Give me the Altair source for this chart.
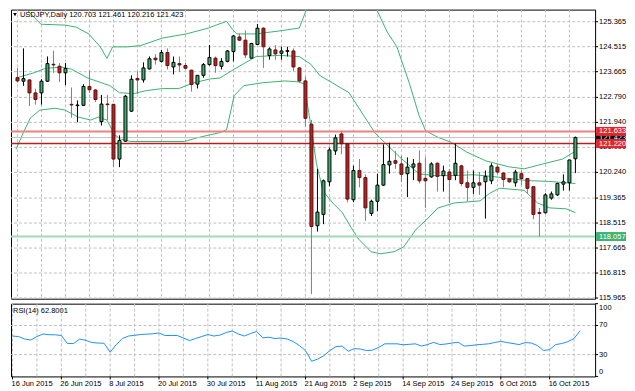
import altair as alt
import pandas as pd

# ---------------- data ----------------
symbol = "USDJPY"
timeframe = "Daily"

opens = [123.461, 123.341, 123.385, 122.943, 122.943, 123.341, 123.916, 123.850, 123.627, 122.554,
         122.511, 122.521, 123.162, 123.042, 121.966, 122.564, 122.554, 120.693, 121.301, 122.321,
         123.434, 123.385, 123.760, 124.125, 124.016, 124.315, 123.826, 123.939, 123.873, 123.717,
         123.242, 123.541, 123.906, 124.125, 123.850, 124.016, 124.348, 124.846, 124.737, 124.125,
         124.590, 125.145, 124.215, 124.405, 124.291, 124.358, 124.371, 123.793, 123.351, 121.880,
         118.424, 118.810, 119.919, 120.969, 121.547, 121.215, 119.308, 120.305, 120.062, 118.843,
         119.255, 119.806, 120.494, 120.637, 120.527, 120.195, 120.418, 120.550, 120.036, 120.085,
         120.550, 120.129, 120.252, 120.139, 120.461, 119.886, 119.730, 119.886, 119.919, 119.953,
         120.418, 120.218, 120.019, 119.886, 120.195, 120.029, 119.753, 118.873, 118.866, 119.365,
         119.474, 119.840, 119.886, 120.703]
highs = [123.793, 124.458, 123.400, 123.085, 123.408, 124.182, 124.381, 123.959, 123.959, 123.129,
         122.687, 123.242, 123.707, 123.075, 122.876, 122.876, 122.570, 121.501, 122.876, 123.541,
         123.674, 123.983, 124.182, 124.258, 124.404, 124.458, 124.182, 124.182, 123.959, 123.730,
         123.550, 123.959, 124.571, 124.182, 124.125, 124.404, 124.903, 124.956, 125.069, 124.647,
         125.288, 125.179, 124.491, 124.571, 124.514, 124.514, 124.458, 123.826, 123.494, 122.022,
         120.361, 119.996, 121.082, 121.524, 121.634, 121.230, 120.471, 120.694, 120.172, 119.308,
         120.195, 121.192, 121.248, 120.969, 120.803, 120.750, 120.694, 120.992, 120.750, 120.584,
         120.584, 120.471, 120.361, 121.215, 120.504, 120.305, 120.305, 120.252, 120.305, 120.550,
         120.527, 120.252, 120.029, 120.328, 120.305, 120.040, 119.760, 119.032, 119.531, 119.587,
         119.886, 120.172, 120.670, 121.461]
lows = [123.295, 123.185, 122.497, 122.544, 122.544, 123.318, 123.627, 123.318, 123.208, 122.099,
        121.946, 122.497, 122.943, 122.630, 121.833, 122.022, 120.418, 120.418, 121.282, 122.300,
        122.909, 123.295, 123.740, 123.906, 123.983, 123.740, 123.574, 123.650, 123.740, 122.986,
        123.095, 123.461, 123.873, 123.627, 123.740, 123.983, 124.016, 124.703, 124.125, 124.115,
        124.571, 123.793, 124.072, 124.072, 124.072, 124.182, 123.684, 123.295, 121.800, 116.099,
        118.225, 118.477, 119.773, 120.836, 120.860, 119.222, 119.222, 119.730, 118.590, 118.756,
        118.923, 119.773, 120.195, 120.361, 119.919, 119.398, 119.973, 119.863, 119.032, 120.062,
        119.587, 119.587, 119.199, 119.973, 119.773, 119.255, 119.507, 119.474, 118.667, 119.840,
        120.172, 119.730, 119.886, 119.753, 119.806, 119.531, 118.644, 118.057, 118.843, 119.308,
        119.441, 119.620, 119.620, 120.216]
closes = [123.351, 123.428, 122.943, 122.720, 123.341, 123.939, 123.896, 123.627, 123.773, 122.534,
          122.531, 123.162, 123.052, 122.720, 122.564, 122.544, 120.693, 121.325, 122.830, 123.408,
          123.385, 123.793, 124.105, 124.072, 124.315, 123.873, 123.983, 123.893, 123.783, 123.228,
          123.541, 123.906, 124.149, 123.873, 124.016, 124.371, 124.880, 124.737, 124.238, 124.624,
          125.145, 124.514, 124.438, 124.272, 124.371, 124.381, 123.826, 123.351, 122.079, 118.401,
          118.889, 119.953, 121.002, 121.414, 121.215, 119.331, 120.305, 120.062, 119.032, 119.255,
          119.806, 120.504, 120.617, 120.550, 120.172, 120.418, 120.527, 119.953, 119.953, 120.527,
          120.105, 120.285, 119.996, 120.550, 119.863, 119.730, 119.886, 119.806, 120.105, 120.461,
          120.252, 119.996, 119.919, 120.252, 120.029, 119.697, 118.810, 118.840, 119.474, 119.507,
          119.863, 119.919, 120.661, 121.423]

rsi_values = [55.5, 54.8, 51.4, 50.0, 54.8, 58.3, 57.3, 57.2, 56.2, 45.2,
              45.2, 51.4, 49.6, 46.6, 45.9, 45.6, 33.2, 43.8, 52.1, 55.5,
              56.5, 57.6, 58.1, 58.6, 59.7, 56.2, 56.2, 56.2, 52.8, 49.3,
              52.1, 54.8, 57.6, 55.5, 56.9, 60.3, 62.4, 58.3, 55.5, 59.0,
              61.7, 53.0, 53.9, 52.1, 52.8, 51.4, 47.9, 42.4, 35.5, 20.8,
              23.8, 28.6, 35.5, 41.0, 41.7, 34.6, 38.3, 37.6, 35.5, 36.2,
              39.9, 44.8, 44.8, 44.8, 43.5, 44.1, 44.8, 41.7, 43.8, 46.8,
              43.8, 44.5, 45.9, 47.0, 41.7, 42.4, 43.4, 44.1, 44.8, 46.6,
              48.2, 46.6, 45.2, 43.8, 46.6, 45.9, 42.4, 35.5, 36.9, 43.8,
              45.2, 47.9, 52.1, 62.8001]

date_labels = ["16 Jun 2015", "26 Jun 2015", "8 Jul 2015", "20 Jul 2015", "30 Jul 2015",
               "11 Aug 2015", "21 Aug 2015", "2 Sep 2015", "14 Sep 2015", "24 Sep 2015",
               "6 Oct 2015", "16 Oct 2015"]
date_label_bars = [0, 8, 16, 24, 32, 40, 48, 56, 64, 72, 80, 88]
grid_bars = [0, 4, 8, 12, 16, 20, 24, 28, 32, 36, 40, 44, 48, 52, 56, 60, 64, 68, 72, 76, 80, 84, 88, 92]

price_ticks = [115.965, 116.815, 117.665, 118.515, 119.365, 120.240, 121.090,
               121.940, 122.790, 123.665, 124.515, 125.365]
rsi_mid_ticks = [30, 70]
rsi_top_tick = [100]
rsi_bottom_tick = [0]

# Bollinger bands (20, 2): bar position -> price
bb_upper_pos = [-0.24, 1.52, 3.91, 7.89, 9.81, 11.88, 13.80, 14.91, 15.87, 18.26, 20.49, 24.16,
                28.15, 31.82, 34.85, 35.81, 36.60, 39.79, 43.62, 46.97, 48.09, 48.88, 53.67,
                58.77, 59.73, 61.64, 63.24, 65.31, 66.91, 68.02, 70.10, 72.33, 74.88, 78.07,
                81.90, 84.45, 87.64, 90.83, 93.0]
bb_upper = [126.01, 125.78, 125.28, 125.25, 125.18, 124.95, 124.51, 124.12, 124.51, 124.51, 124.55,
            124.81, 124.95, 125.15, 125.38, 125.11, 124.95, 124.95, 125.05, 125.15, 125.74, 126.51,
            127.84, 126.34, 125.84, 125.01, 124.51, 123.28, 122.19, 121.66, 121.43, 121.26, 120.93,
            120.63, 120.43, 120.36, 120.53, 120.69, 120.96]
bb_mid_pos = [-0.24, 2.63, 4.70, 7.42, 9.01, 11.72, 15.39, 16.99, 19.38, 21.45, 24.16, 26.87,
              29.43, 32.14, 33.73, 36.12, 39.79, 43.62, 46.97, 48.88, 50.48, 52.55, 55.26,
              57.66, 59.57, 61.17, 63.72, 65.95, 66.91, 69.62, 72.81, 76.00, 79.19, 81.90,
              85.09, 88.76, 93.0]
bb_mid = [123.45, 123.62, 123.78, 123.82, 123.75, 123.45, 123.19, 122.95, 122.92, 123.02, 123.09,
          123.09, 123.29, 123.42, 123.45, 123.75, 124.18, 124.22, 124.18, 123.92, 123.52, 123.28,
          122.95, 122.19, 121.59, 121.26, 120.76, 120.36, 120.19, 120.13, 120.13, 120.16, 120.10,
          120.03, 119.96, 119.93, 119.86]
bb_low_pos = [-0.24, 1.04, 2.15, 3.75, 6.30, 7.89, 10.13, 12.20, 13.48, 14.91, 16.19, 17.30,
              18.90, 24.16, 27.83, 30.06, 32.14, 33.73, 34.85, 36.12, 37.72, 40.91, 44.58,
              46.81, 47.77, 48.88, 49.84, 50.96, 52.55, 54.15, 55.58, 56.86, 58.93, 60.53,
              62.76, 64.35, 66.43, 68.02, 70.10, 72.81, 77.11, 78.71, 80.35, 84.45, 86.68,
              88.76, 91.47, 93.0]
bb_low = [121.03, 121.62, 122.09, 122.36, 122.42, 122.36, 122.12, 122.02, 122.12, 122.02, 121.52,
          121.36, 121.29, 121.29, 121.29, 121.42, 121.52, 121.59, 121.69, 122.85, 123.19, 123.29,
          123.35, 123.32, 123.25, 121.86, 120.53, 119.60, 119.20, 118.87, 118.37, 117.97, 117.54,
          117.47, 117.54, 117.70, 118.30, 118.60, 119.03, 119.20, 119.27, 119.53, 119.70, 119.63,
          119.20, 119.03, 119.00, 118.87]

# horizontal price levels drawn on the chart
level_names = ["bid", "resistance", "pivot", "support"]
level_prices = [121.423, 121.633, 121.220, 118.057]

# ---------------- styles ----------------
FONT = "Liberation Sans"
FS = 7.5
W, H1, H2 = 586, 290, 73
GRID = "#C0C0C0"
DASH = [3, 2]
UP_FILL, UP_LINE = "#3CB371", "#000000"
DN_FILL, DN_LINE, DN_WICK = "#B22222", "#5A1010", "#808080"
BAND = "#3CB371"
RSI_COLOR = "#1E90FF"
LEVEL_LINE = {"bid": ("#C0C0C0", 1), "resistance": ("#F08080", 2),
              "pivot": ("#B22222", 1.5), "support": ("#A3D9BA", 2)}
LEVEL_BOX = {"bid": "#000000", "resistance": "#E0282C", "pivot": "#E0282C", "support": "#3CB371"}

xs = alt.Scale(domain=[-0.25, 95.45], nice=False, zero=False)
ys = alt.Scale(domain=[115.943, 125.777], nice=False, zero=False)
rs = alt.Scale(domain=[0, 100], nice=False, zero=False)

candles = pd.DataFrame({"bar": list(range(len(opens))), "open": opens, "high": highs,
                        "low": lows, "close": closes})
grid_df = pd.DataFrame({"bar": grid_bars})
up_cond = "datum.close >= datum.open"


def xq(field):
    return alt.X(field, type="quantitative", scale=xs, axis=None)


def yq(field, scale):
    return alt.Y(field, type="quantitative", scale=scale, axis=None)


def label_text(**kw):
    return dict(font=FONT, fontSize=FS, color="#000000", **kw)


# ---------------- main panel ----------------
vgrid = alt.Chart(grid_df).mark_rule(color=GRID, strokeDash=DASH, strokeWidth=1).encode(x=xq("bar"))

ptick_df = pd.DataFrame({"p": price_ticks})
hgrid = alt.Chart(ptick_df).mark_rule(color=GRID, strokeDash=DASH, strokeWidth=1).encode(y=yq("p", ys))
pticks = alt.Chart(ptick_df).mark_rule(color="#000000", strokeWidth=1).encode(
    x=alt.value(W), x2=alt.value(W + 3), y=yq("p", ys))
plabels = alt.Chart(ptick_df).mark_text(**label_text(align="left", baseline="middle")).encode(
    x=alt.value(W + 4), y=yq("p", ys), text=alt.Text("p:Q", format=".3f"))

wicks = alt.Chart(candles).mark_rule(strokeWidth=1).encode(
    x=xq("bar"), y=yq("low", ys), y2="high:Q",
    color=alt.condition(up_cond, alt.value(UP_LINE), alt.value(DN_WICK)),
)
bodies = alt.Chart(candles).mark_bar(size=3, strokeWidth=1).encode(
    x=xq("bar"), y=yq("open", ys), y2="close:Q",
    fill=alt.condition(up_cond, alt.value(UP_FILL), alt.value(DN_FILL)),
    stroke=alt.condition(up_cond, alt.value(UP_LINE), alt.value(DN_LINE)),
)


def band(pos, vals):
    d = pd.DataFrame({"pos": pos, "price": vals})
    return alt.Chart(d).mark_line(color=BAND, strokeWidth=1, clip=True).encode(
        x=xq("pos"), y=yq("price", ys), order="pos:Q")


bands = [band(bb_upper_pos, bb_upper), band(bb_mid_pos, bb_mid), band(bb_low_pos, bb_low)]

level_lines = []
level_boxes = []
for name, price in zip(level_names, level_prices):
    d = pd.DataFrame({"price": [price], "label": [f"{price:.3f}"]})
    col, sw = LEVEL_LINE[name]
    level_lines.append(alt.Chart(d).mark_rule(color=col, strokeWidth=sw).encode(y=yq("price", ys)))
    level_boxes.append(alt.Chart(d).mark_tick(orient="horizontal", size=30, thickness=9,
                                              color=LEVEL_BOX[name], opacity=1).encode(
        x=alt.value(W + 16), y=yq("price", ys)))
    level_boxes.append(alt.Chart(d).mark_text(align="left", baseline="middle", font=FONT,
                                              fontSize=FS, color="#FFFFFF").encode(
        x=alt.value(W + 4), y=yq("price", ys), text="label:N"))

header = f"{symbol},{timeframe}  {opens[-1]:.3f} {highs[-1]:.3f} {lows[-1]:.3f} {closes[-1]:.3f}"
head_text = alt.Chart(pd.DataFrame({"t": [header]})).mark_text(
    **label_text(align="left", baseline="middle")).encode(x=alt.value(9), y=alt.value(5), text="t:N")
head_tri = alt.Chart(pd.DataFrame({"t": [0]})).mark_point(
    shape="triangle-down", filled=True, size=14, color="#000000", opacity=1).encode(
    x=alt.value(4), y=alt.value(5))

main = alt.layer(vgrid, hgrid, *bands, *level_lines, wicks, bodies, pticks, plabels,
                 *level_boxes, head_text, head_tri).properties(width=W, height=H1)

# ---------------- RSI panel ----------------
rsi_df = pd.DataFrame({"bar": list(range(len(rsi_values))), "rsi": rsi_values})
dates_df = pd.DataFrame({"bar": date_label_bars, "label": date_labels})

rsi_vgrid = alt.Chart(grid_df).mark_rule(color=GRID, strokeDash=DASH, strokeWidth=1).encode(x=xq("bar"))
rsi_hgrid = alt.Chart(pd.DataFrame({"v": rsi_mid_ticks})).mark_rule(
    color=GRID, strokeDash=DASH, strokeWidth=1).encode(y=yq("v", rs))
rsi_line = alt.Chart(rsi_df).mark_line(color=RSI_COLOR, strokeWidth=1).encode(
    x=xq("bar"), y=yq("rsi", rs))

all_rsi_ticks = pd.DataFrame({"v": rsi_bottom_tick + rsi_mid_ticks + rsi_top_tick})
rsi_ticks = alt.Chart(all_rsi_ticks).mark_rule(color="#000000", strokeWidth=1).encode(
    x=alt.value(W), x2=alt.value(W + 3), y=yq("v", rs))


def rsi_lab(vals, baseline):
    return alt.Chart(pd.DataFrame({"v": vals})).mark_text(
        **label_text(align="left", baseline=baseline)).encode(
        x=alt.value(W + 4), y=yq("v", rs), text=alt.Text("v:Q", format="d"))


date_ticks = alt.Chart(dates_df).mark_rule(color="#000000", strokeWidth=1).encode(
    x=xq("bar"), y=alt.value(H2), y2=alt.value(H2 + 3))
date_text = alt.Chart(dates_df).mark_text(**label_text(align="left", baseline="top", dx=-1)).encode(
    x=xq("bar"), y=alt.value(H2 + 4), text="label:N")

rsi_text = alt.Chart(pd.DataFrame({"t": [f"RSI(14) {rsi_values[-1]:.4f}"]})).mark_text(
    **label_text(align="left", baseline="middle")).encode(x=alt.value(2), y=alt.value(7), text="t:N")

rsi_chart = alt.layer(rsi_vgrid, rsi_hgrid, rsi_line, rsi_ticks,
                      rsi_lab(rsi_mid_ticks, "middle"), rsi_lab(rsi_top_tick, "top"),
                      rsi_lab(rsi_bottom_tick, "bottom"), date_ticks, date_text, rsi_text
                      ).properties(width=W, height=H2)

chart = alt.vconcat(main, rsi_chart, spacing=0).properties(
    padding={"left": 1, "top": 0, "right": 0, "bottom": 0}
).configure_view(stroke="#000000", strokeWidth=1)

chart.save("out.html", embed_options={"renderer": "svg", "actions": False})
